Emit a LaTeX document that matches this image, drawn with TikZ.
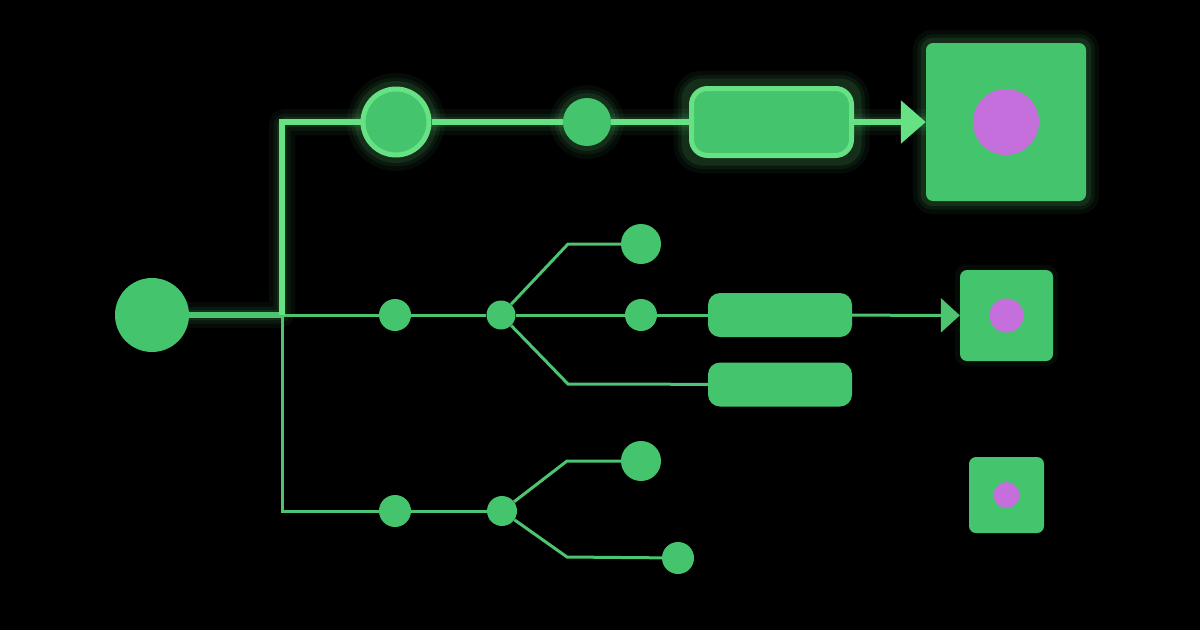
\documentclass[tikz,border=0pt]{standalone}
\usetikzlibrary{arrows.meta}
\definecolor{gfill}{HTML}{45C46E}
\definecolor{gbright}{HTML}{66E284}
\definecolor{gline}{HTML}{4CC470}
\definecolor{pinkdot}{HTML}{C46FDC}
\pgfdeclarelayer{bglayer}
\pgfdeclarelayer{glowlayer}
\pgfdeclarelayer{lines}
\pgfsetlayers{bglayer,glowlayer,lines,main}
\begin{document}
\begin{tikzpicture}[x=1pt,y=-1pt,
  glowy/.style={preaction={draw=gbright,line width=26pt,opacity=0.05},
                preaction={draw=gbright,line width=17pt,opacity=0.07},
                preaction={draw=gbright,line width=10pt,opacity=0.10}},
  dot/.style={circle,fill=gfill,inner sep=0pt,minimum size=#1},
  bigring/.style={circle,fill=gfill,draw=gbright,line width=5pt,inner sep=0pt,minimum size=#1},
  pill/.style={rounded corners=12pt,fill=gfill,inner sep=0pt,minimum width=144pt,minimum height=44pt},
  toppill/.style={rounded corners=16pt,fill=gfill,draw=gbright,line width=5pt,inner sep=0pt,minimum width=160pt,minimum height=67pt},
  tile/.style={rounded corners=7pt,fill=gfill,inner sep=0pt},
  core/.style={circle,fill=pinkdot,inner sep=0pt,minimum size=#1},
  thin/.style={draw=gline,line width=3pt},
  thick/.style={draw=gbright,line width=6pt},
]
\begin{pgfonlayer}{bglayer}
\fill[black] (0,0) rectangle (1200,630);
\end{pgfonlayer}
\useasboundingbox (0,0) rectangle (1200,630);

% top row
\node[bigring=66pt] (c1) at (396,122) {};
\node[dot=48pt] (c2) at (587,122) {};
\node[toppill] (r0) at (771.5,122) {};
\node[tile,minimum width=160pt,minimum height=158pt] (sq1) at (1006,122) {};
\node[core=66pt] (p1) at (sq1.center) {};

% middle row
\node[dot=74pt] (big) at (152,315) {};
\coordinate (j) at (282,315);
\node[dot=32pt] (m1) at (395,315) {};
\node[dot=29pt] (b1) at (501,315) {};
\coordinate (k1) at (568,244);
\node[dot=40pt] (n1) at (641,244) {};
\node[dot=32pt] (m2) at (641,315) {};
\node[pill] (r1) at (780,315) {};
\coordinate (k2) at (568,384);
\node[pill] (r2) at (780,384.5) {};
\node[tile,minimum width=93pt,minimum height=91pt] (sq2) at (1006.5,315.5) {};
\node[core=34pt] (p2) at (sq2.center) {};

% bottom row
\coordinate (cb) at (282,511);
\node[dot=32pt] (m3) at (395,511) {};
\node[dot=30pt] (b2) at (502,511) {};
\coordinate (k3) at (567,461);
\node[dot=40pt] (n3) at (641,461) {};
\coordinate (k4) at (567,557);
\node[dot=32pt] (n4) at (678,558) {};
\node[tile,minimum width=75pt,minimum height=76pt] (sq3) at (1006.5,495) {};
\node[core=26pt] (p3) at (sq3.center) {};

% soft glow under the top row
\begin{pgfonlayer}{glowlayer}
  \path[glowy] (c1.center) circle (36pt);
  \path[glowy] (c2.center) circle (24pt);
  \path[glowy,rounded corners=16pt] ([shift={(-2.5,-2.5)}]r0.north west) rectangle ([shift={(2.5,2.5)}]r0.south east);
  \path[glowy,rounded corners=7pt] (sq1.north west) rectangle (sq1.south east);
  \path[glowy,rounded corners=4pt] (big.center) -- (j) |- (c1.center) -- (sq1.center);
  \path[rounded corners=7pt,preaction={draw=gbright,line width=10pt,opacity=0.05}] (sq2.north west) rectangle (sq2.south east);
\end{pgfonlayer}

% connectors
\begin{pgfonlayer}{lines}
\draw[thin] (j) -- (cb) -- (m3) -- (b2);
\draw[thin] (b2) -- (k3) -- (n3);
\draw[thin] (b2) -- (k4) -- (n4);
\draw[thin] (j) -- (m1) -- (b1) -- (m2) -- (r1);
\draw[thin] (b1) -- (k1) -- (n1);
\draw[thin] (b1) -- (k2) -- (r2);
\draw[thin,-{Triangle[width=34pt,length=19pt]}] (r1) -- (sq2);
\draw[draw=gline,line width=6pt] (big) -- (j);
\draw[thick,line join=miter] (j) |- (c1);
\draw[thick] (c1) -- (c2);
\draw[thick] (c2) -- (r0);
\draw[thick,-{Triangle[width=42pt,length=25pt]}] (r0) -- (sq1);
\end{pgfonlayer}
\end{tikzpicture}
\end{document}
